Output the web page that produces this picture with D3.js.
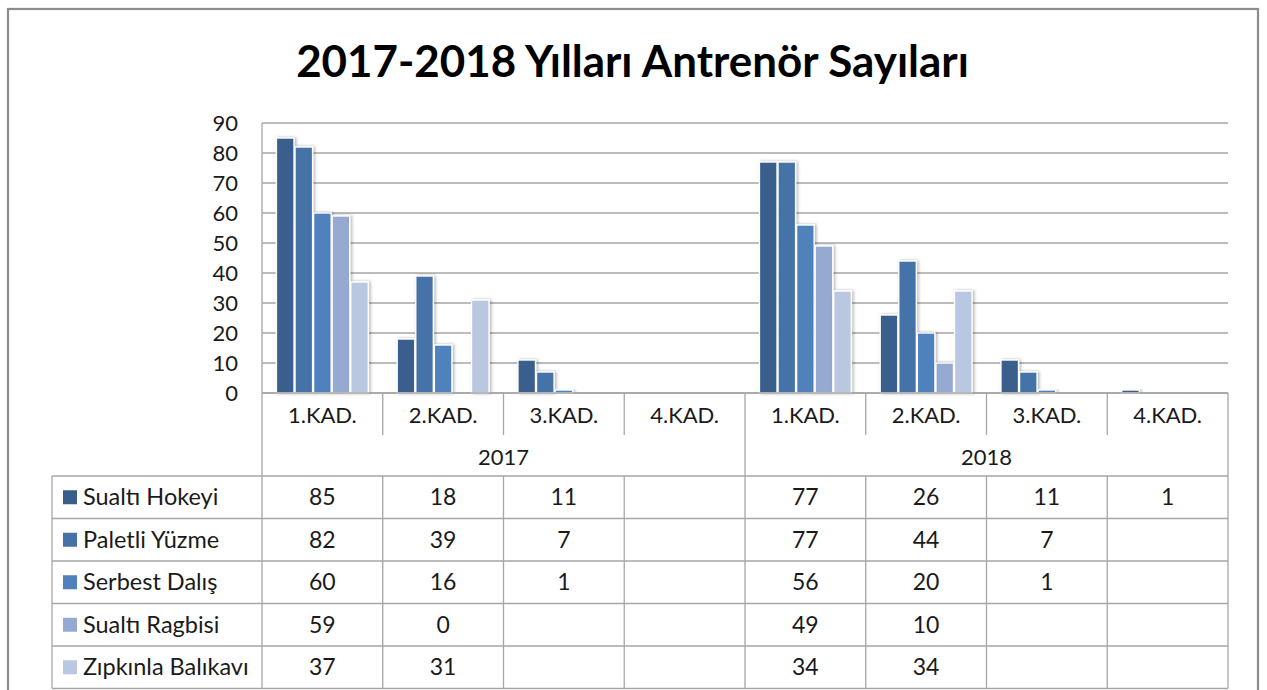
<!DOCTYPE html>
<html>
<head>
<meta charset="utf-8">
<script src="https://cdn.jsdelivr.net/npm/d3@7"></script>
<style>
  html, body { margin: 0; padding: 0; background: #fff; }
  svg { display: block; }
  text { font-family: Lato, "Open Sans", sans-serif; fill: #1a1a1a; }
</style>
</head>
<body>
<svg id="chart" width="1267" height="690"></svg>
<script>
// ---------- data ----------
const title = "2017-2018 Yılları Antrenör Sayıları";
const years = ["2017", "2018"];
const categories = ["1.KAD.", "2.KAD.", "3.KAD.", "4.KAD."];
const seriesNames = ["Sualtı Hokeyi", "Paletli Yüzme", "Serbest Dalış", "Sualtı Ragbisi", "Zıpkınla Balıkavı"];
// values per column: 2017 (1..4.KAD.), then 2018 (1..4.KAD.); null = empty cell
const sualtiHokeyi   = [85, 18, 11, null, 77, 26, 11, 1];
const paletliYuzme   = [82, 39, 7, null, 77, 44, 7, null];
const serbestDalis   = [60, 16, 1, null, 56, 20, 1, null];
const sualtiRagbisi  = [59, 0, null, null, 49, 10, null, null];
const zipkinla       = [37, 31, null, null, 34, 34, null, null];
const yTicks = [0, 10, 20, 30, 40, 50, 60, 70, 80, 90];
const colors = ["#3a5e8c", "#4572a7", "#4f81bd", "#95a9d1", "#b9c7e1"];

const seriesValues = [sualtiHokeyi, paletliYuzme, serbestDalis, sualtiRagbisi, zipkinla];
const columns = [];
years.forEach(y => categories.forEach(c => columns.push(y + "|" + c)));

// ---------- layout ----------
const svg = d3.select("#chart");
const plotL = 262, plotR = 1228, plotT = 123, plotB = 393;
const catRowB = 435, yearRowB = 476, tableL = 52;
const rowH = (688.5 - yearRowB) / seriesNames.length;
const gridColor = "#a6a6a6";

// outer frame
svg.append("rect").attr("x", 8).attr("y", 9).attr("width", 1250).attr("height", 700)
  .attr("fill", "#fff").attr("stroke", "#8c8c8c").attr("stroke-width", 2.2);

// title
const t = svg.append("text").attr("x", 632.5).attr("y", 77).attr("text-anchor", "middle")
  .attr("font-weight", "bold").attr("font-size", 40).style("fill", "#000").text(title);
const tw = t.node().getComputedTextLength();
t.attr("font-size", 40 * 673 / tw);

// scales
const x = d3.scaleBand().domain(columns).range([plotL, plotR]).padding(0);
const xs = d3.scaleBand().domain(d3.range(seriesNames.length)).range([0, x.bandwidth()])
  .paddingInner(0).paddingOuter(0.75);
const y = d3.scaleLinear().domain([0, 90]).range([plotB, plotT]);

// gridlines
svg.append("g").selectAll("line").data(yTicks).join("line")
  .attr("x1", plotL).attr("x2", plotR)
  .attr("y1", d => y(d)).attr("y2", d => y(d))
  .attr("stroke", gridColor).attr("stroke-width", 1.3);

// y axis labels
const yAxis = d3.axisLeft(y).tickValues(yTicks).tickSize(0).tickPadding(24);
const ga = svg.append("g").attr("transform", `translate(${plotL},0)`).call(yAxis);
ga.select(".domain").remove();
ga.selectAll("text").attr("font-size", 22).attr("font-family", "Lato, sans-serif").style("fill", "#1a1a1a");

// shadow filter
const defs = svg.append("defs");
const f = defs.append("filter").attr("id", "sh").attr("x", "-30%").attr("y", "-10%").attr("width", "160%").attr("height", "120%");
f.append("feDropShadow").attr("dx", 1.5).attr("dy", 0).attr("stdDeviation", 1.6)
  .attr("flood-color", "#000").attr("flood-opacity", 0.3);

// bars
const barData = [];
seriesValues.forEach((vals, s) => vals.forEach((v, i) => {
  if (v !== null) barData.push({ s, col: columns[i], v });
}));
svg.append("g").selectAll("rect").data(barData).join("rect")
  .attr("x", d => x(d.col) + xs(d.s) + 0.5)
  .attr("width", xs.bandwidth() - 1)
  .attr("y", d => y(d.v))
  .attr("height", d => plotB - y(d.v))
  .attr("fill", d => colors[d.s])
  .attr("stroke", "#fff").attr("stroke-width", 1.4)
  .attr("filter", "url(#sh)");

// table lines
const lines = svg.append("g").attr("stroke", gridColor).attr("stroke-width", 1.3);
lines.append("line").attr("x1", plotL).attr("x2", plotR).attr("y1", plotB).attr("y2", plotB);
lines.append("line").attr("x1", plotL).attr("x2", plotL).attr("y1", plotT).attr("y2", 688.5);
lines.append("line").attr("x1", plotR).attr("x2", plotR).attr("y1", plotB).attr("y2", 688.5);
lines.append("line").attr("x1", tableL).attr("x2", tableL).attr("y1", yearRowB).attr("y2", 688.5);
d3.range(seriesNames.length + 1).forEach(r => {
  const yy = yearRowB + r * rowH;
  lines.append("line").attr("x1", tableL).attr("x2", plotR).attr("y1", yy).attr("y2", yy);
});
columns.forEach((c, i) => {
  if (i === 0) return;
  const xx = x(c);
  const yearBoundary = i % categories.length === 0;
  if (yearBoundary) {
    lines.append("line").attr("x1", xx).attr("x2", xx).attr("y1", plotB).attr("y2", 688.5);
  } else {
    lines.append("line").attr("x1", xx).attr("x2", xx).attr("y1", plotB).attr("y2", catRowB);
    lines.append("line").attr("x1", xx).attr("x2", xx).attr("y1", yearRowB).attr("y2", 688.5);
  }
});

// category labels
svg.append("g").selectAll("text").data(columns).join("text")
  .attr("x", d => x(d) + x.bandwidth() / 2).attr("y", 423)
  .attr("text-anchor", "middle").attr("font-size", 22)
  .text(d => d.split("|")[1]);

// year labels
svg.append("g").selectAll("text").data(years).join("text")
  .attr("x", (d, i) => x(columns[i * categories.length]) + x.bandwidth() * categories.length / 2)
  .attr("y", 465).attr("text-anchor", "middle").attr("font-size", 22)
  .text(d => d);

// legend rows
const rows = svg.append("g");
seriesNames.forEach((name, s) => {
  const cy = yearRowB + (s + 0.5) * rowH;
  rows.append("rect").attr("x", 63).attr("y", cy - 7).attr("width", 14).attr("height", 14)
    .attr("fill", colors[s]);
  rows.append("text").attr("x", 83).attr("y", cy + 8).attr("font-size", 23.5).text(name);
  seriesValues[s].forEach((v, i) => {
    if (v === null) return;
    rows.append("text").attr("x", x(columns[i]) + x.bandwidth() / 2).attr("y", cy + 8)
      .attr("text-anchor", "middle").attr("font-size", 23).text(v);
  });
});
</script>
</body>
</html>
